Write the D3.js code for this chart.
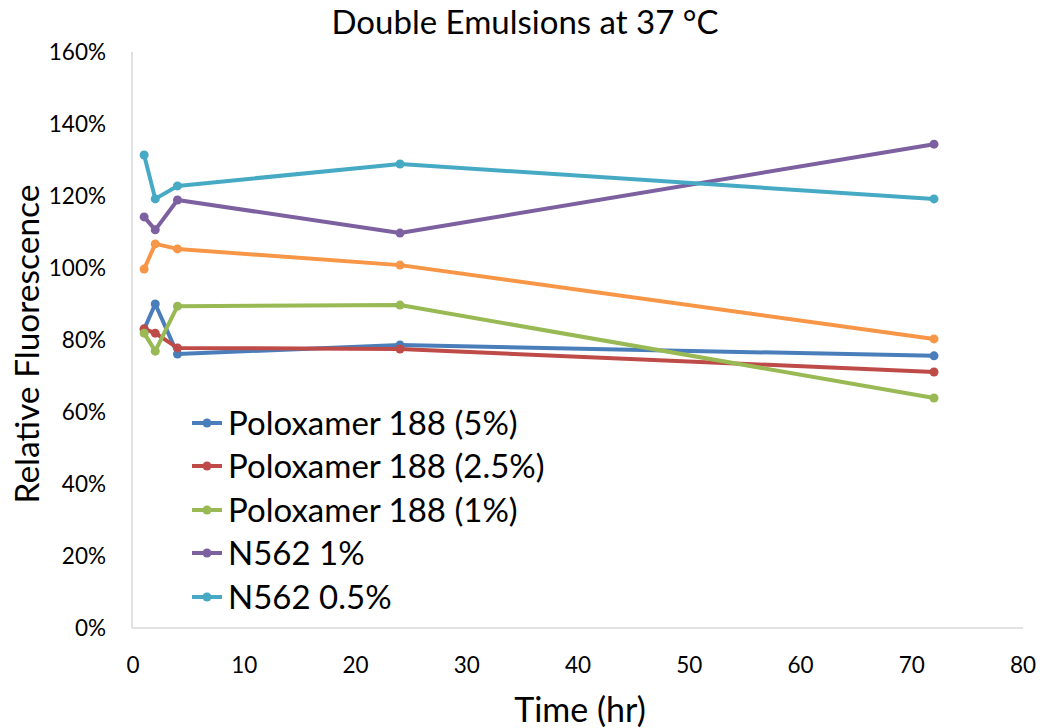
<!DOCTYPE html>
<html><head><meta charset="utf-8">
<script src="https://cdn.jsdelivr.net/npm/d3@7"></script>
<style>body{margin:0;background:#fff}svg{display:block}text{font-family:Lato,"Open Sans",sans-serif;fill:#000}</style>
</head><body><svg id="c" width="1048" height="728"></svg>
<script>
const times = [1, 2, 4, 24, 72];
const seriesNames = ["Poloxamer 188 (5%)", "Poloxamer 188 (2.5%)", "Poloxamer 188 (1%)", "N562 1%", "N562 0.5%"];
const colors = ["#4a7ebb", "#be4b48", "#98b954", "#7d60a0", "#46aac5", "#f79646"];
const p188_5 = [0.830, 0.900, 0.761, 0.786, 0.756];
const p188_25 = [0.831, 0.819, 0.778, 0.775, 0.711];
const p188_1 = [0.819, 0.769, 0.894, 0.897, 0.639];
const n562_1 = [1.142, 1.106, 1.189, 1.097, 1.344];
const n562_05 = [1.314, 1.192, 1.228, 1.289, 1.192];
const extra = [0.997, 1.067, 1.053, 1.008, 0.803];
const xTicks = [0, 10, 20, 30, 40, 50, 60, 70, 80];
const yTicks = [0, 0.2, 0.4, 0.6, 0.8, 1.0, 1.2, 1.4, 1.6];

const drawOrder = [
  {v: p188_5, c: colors[0]},
  {v: p188_25, c: colors[1]},
  {v: p188_1, c: colors[2]},
  {v: n562_1, c: colors[3]},
  {v: n562_05, c: colors[4]},
  {v: extra, c: colors[5]}
];

const svg = d3.select("#c");
const x = d3.scaleLinear().domain([0, 80]).range([133, 1023]);
const y = d3.scaleLinear().domain([0, 1.6]).range([628, 52]);

// axes
svg.append("line").attr("x1", x(0)-1).attr("x2", x(0)-1).attr("y1", y(1.6)).attr("y2", y(0)).attr("stroke", "#d9d9d9").attr("stroke-width", 1.5);
svg.append("line").attr("x1", x(0)-1).attr("x2", x(80)).attr("y1", y(0)).attr("y2", y(0)).attr("stroke", "#d9d9d9").attr("stroke-width", 1.5);

svg.append("g").selectAll("text").data(yTicks).join("text")
  .attr("x", 106).attr("y", d => y(d)).attr("dy", "0.35em").attr("text-anchor", "end")
  .attr("font-size", 22.5).text(d => d3.format(".0%")(d));
svg.append("g").selectAll("text").data(xTicks).join("text")
  .attr("x", d => x(d)).attr("y", 665).attr("dy", "0.35em").attr("text-anchor", "middle")
  .attr("font-size", 22.5).text(d => d);

svg.append("text").attr("x", 525).attr("y", 22).attr("dy", "0.35em").attr("text-anchor", "middle").attr("font-size", 33).text("Double Emulsions at 37 °C");
svg.append("text").attr("x", 580).attr("y", 710).attr("dy", "0.35em").attr("text-anchor", "middle").attr("font-size", 34).text("Time (hr)");
svg.append("text").attr("transform", "translate(27,344) rotate(-90)").attr("dy", "0.35em").attr("text-anchor", "middle").attr("font-size", 33.5).text("Relative Fluorescence");

const line = d3.line().x((d, i) => x(times[i])).y(d => y(d));
drawOrder.forEach(s => {
  const g = svg.append("g");
  g.append("path").attr("d", line(s.v)).attr("fill", "none").attr("stroke", s.c).attr("stroke-width", 4).attr("stroke-linejoin", "round");
  g.selectAll("circle").data(s.v).join("circle").attr("cx", (d, i) => x(times[i])).attr("cy", d => y(d)).attr("r", 4.5).attr("fill", s.c);
});

// legend
const legY = [423, 466, 510, 553, 597];
seriesNames.forEach((n, i) => {
  const g = svg.append("g");
  g.append("line").attr("x1", 192).attr("x2", 222).attr("y1", legY[i]).attr("y2", legY[i]).attr("stroke", colors[i]).attr("stroke-width", 4);
  g.append("circle").attr("cx", 207).attr("cy", legY[i]).attr("r", 4.5).attr("fill", colors[i]);
  g.append("text").attr("x", 228).attr("y", legY[i]).attr("dy", "0.35em").attr("font-size", 33).text(n);
});
</script></body></html>
